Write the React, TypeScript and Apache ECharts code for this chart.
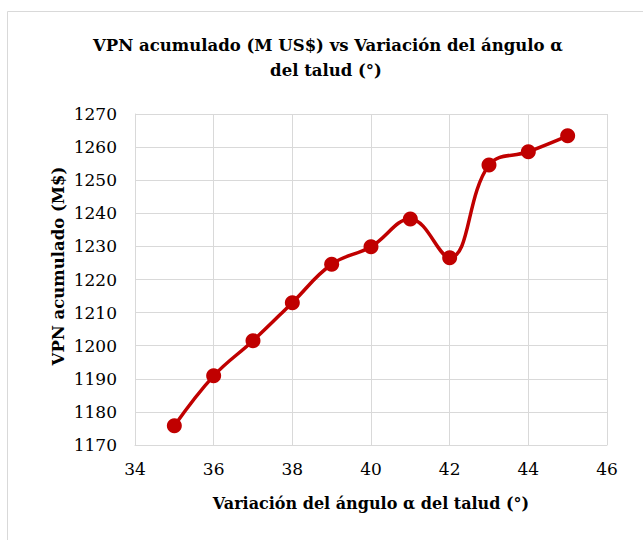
import React, { useEffect, useRef } from "react";
import * as echarts from "echarts";

const angles = [35, 36, 37, 38, 39, 40, 41, 42, 43, 44, 45];
const vpn = [1175.8, 1190.9, 1201.5, 1213.0, 1224.6, 1229.9, 1238.3, 1226.6, 1254.6, 1258.6, 1263.4];
const titleLines = ["VPN acumulado (M US$) vs Variación del ángulo α", "del talud (°)"];
const xName = "Variación del ángulo α del talud (°)";
const yName = "VPN acumulado (M$)";

const FONT = "DejaVu Serif";

export default function App() {
  const ref = useRef<HTMLDivElement>(null);
  useEffect(() => {
    if (!ref.current) return;
    const chart = echarts.init(ref.current, null, { renderer: "svg" });
    const boldText = (text: string, x: number, y: number, size: number, extra: any = {}) => ({
      type: "text",
      x,
      y,
      ...extra,
      style: {
        text,
        font: `bold ${size}px ${FONT}`,
        fill: "#000",
        align: "center",
        verticalAlign: "middle",
      },
    });
    chart.setOption({
      animation: false,
      backgroundColor: "#ffffff",
      grid: { left: 135, right: 36, top: 114, bottom: 95, containLabel: false },
      xAxis: {
        type: "value",
        min: 34,
        max: 46,
        interval: 2,
        axisLine: { show: true, lineStyle: { color: "#d9d9d9", width: 1 } },
        axisTick: { show: false },
        splitLine: { show: true, lineStyle: { color: "#d9d9d9", width: 1 } },
        axisLabel: { color: "#000", fontFamily: FONT, fontSize: 17, margin: 15, formatter: (v: number) => String(v) },
      },
      yAxis: {
        type: "value",
        min: 1170,
        max: 1270,
        interval: 10,
        axisLine: { show: true, lineStyle: { color: "#d9d9d9", width: 1 } },
        axisTick: { show: false },
        splitLine: { show: true, lineStyle: { color: "#d9d9d9", width: 1 } },
        axisLabel: { color: "#000", fontFamily: FONT, fontSize: 17, margin: 18, formatter: (v: number) => String(v) },
      },
      series: [
        {
          type: "line",
          data: angles.map((a, i) => [a, vpn[i]]),
          smooth: 0.4,
          symbol: "circle",
          symbolSize: 15,
          lineStyle: { color: "#C00000", width: 3.5 },
          itemStyle: { color: "#C00000" },
        },
      ],
      graphic: [
        {
          type: "rect",
          shape: { x: 7.5, y: 11.5, width: 700, height: 600 },
          style: { fill: "none", stroke: "#d9d9d9", lineWidth: 1 },
          z: -10,
        },
        boldText(titleLines[0], 328, 45, 16.5),
        boldText(titleLines[1], 326, 70, 16.5),
        boldText(xName, 371, 503, 16),
        boldText(yName, 58, 266, 16.5, { rotation: Math.PI / 2 }),
      ],
    });
    return () => chart.dispose();
  }, []);
  return <div ref={ref} style={{ width: 643, height: 540, position: "absolute", left: 0, top: 0 }} />;
}
